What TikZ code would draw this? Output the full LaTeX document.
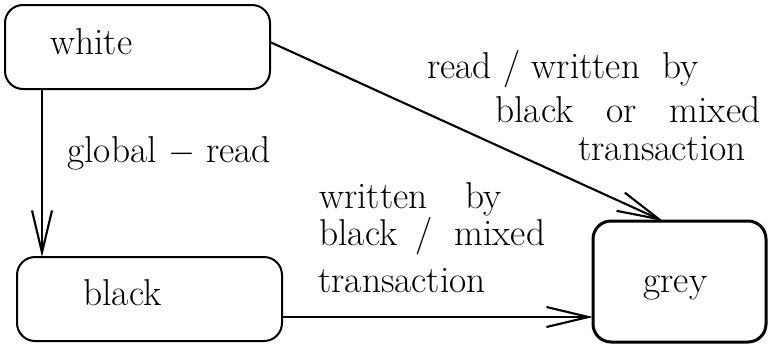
\documentclass[tikz,border=0pt]{standalone}
\usetikzlibrary{arrows.meta, calc}

\tikzset{
  statebox/.style={draw, rounded corners=9pt, line width=1pt, inner sep=0pt, outer sep=0pt},
  trans/.style={-{Straight Barb[length=21pt, width=10pt]}, line width=1.05pt},
  lbl/.style={anchor=base west, inner sep=0pt},
}

\begin{document}
\begin{tikzpicture}[x=0.5pt, y=-0.5pt, font=\fontsize{18.7}{22}\selectfont]
    \useasboundingbox (0,0) rectangle (769,343);
    % states
    \node[statebox, minimum width=132.5pt, minimum height=42pt] (white) at (137.5,47) {};
    \node[statebox, minimum width=132.5pt, minimum height=42pt] (black) at (149.5,299) {};
    \node[statebox, line width=1.5pt, minimum width=86.5pt, minimum height=60.5pt] (grey) at (679.5,281.5) {};
    \node[lbl] (whitetxt) at (50,54) {white};
    \node[lbl] (blacktxt) at (83,305) {black};
    \node[lbl] (greytxt) at (643,292) {grey};
    % transitions
    \draw[trans] ([xshift=18.5pt]white.south west) -- ([xshift=12.5pt]black.north west);
    \draw[trans] ([yshift=2.5pt]white.east) -- ([xshift=-8.25pt]grey.north);
    \draw[trans] ([yshift=-9pt]black.east) -- ([yshift=-17.75pt]grey.west);
    % labels
    \node[lbl] (gread) at (67,162) {global $-$ read};
    \node[lbl] (rw1) at (427,78) {read / written\hspace{11pt}by};
    \node[lbl] (rw2) at (495,122) {black\hspace{16.5pt}or\hspace{16.5pt}mixed};
    \node[lbl] (rw3) at (578,160) {transaction};
    \node[lbl] (wb1) at (319,208) {written\hspace{19pt}by};
    \node[lbl] (wb2) at (319,245) {black\hspace{9pt}/\hspace{11pt}mixed};
    \node[lbl] (wb3) at (318,292) {transaction};
\end{tikzpicture}
\end{document}
